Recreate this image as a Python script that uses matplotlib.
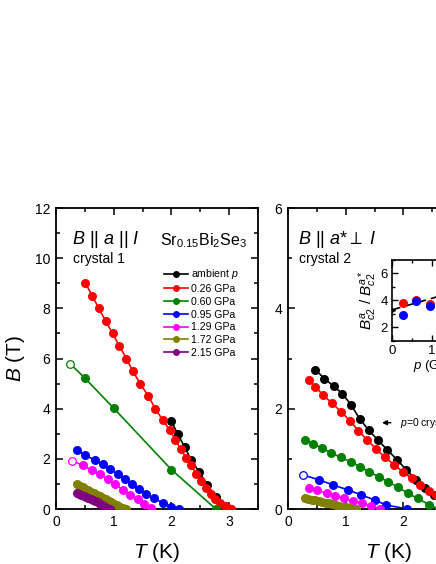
import matplotlib
matplotlib.use('Agg')
import matplotlib.pyplot as plt
from matplotlib.ticker import MultipleLocator

plt.rcParams['font.family'] = ['Liberation Sans', 'DejaVu Sans']
plt.rcParams['mathtext.fontset'] = 'custom'
plt.rcParams['mathtext.rm'] = 'Liberation Sans'
plt.rcParams['mathtext.it'] = 'Liberation Sans:italic'
plt.rcParams['mathtext.sf'] = 'Liberation Sans'

# ---------------------------------------------------------------------------
# Data: crystal 1 (B || a || I)
# ---------------------------------------------------------------------------
labels = ['ambient $p$', '0.26 GPa', '0.60 GPa', '0.95 GPa', '1.29 GPa', '1.72 GPa', '2.15 GPa']
colors = ['black', '#ff0000', '#008000', '#0000ff', '#ff00ff', '#808000', '#800080']

c1_amb_T = [2.00, 2.11, 2.23, 2.34, 2.48, 2.62, 2.77, 2.92, 3.03]
c1_amb_B = [3.50, 2.98, 2.47, 1.96, 1.48, 0.97, 0.47, 0.12, 0.00]
c1_026_T = [0.51, 0.63, 0.74, 0.86, 0.98, 1.10, 1.22, 1.33, 1.46, 1.60, 1.72, 1.85, 1.97,
            2.07, 2.16, 2.25, 2.34, 2.43, 2.52, 2.60, 2.68, 2.76, 2.84, 2.92, 2.98, 3.04]
c1_026_B = [9.00, 8.50, 8.00, 7.50, 7.00, 6.50, 6.00, 5.50, 5.00, 4.50, 4.00, 3.55, 3.15,
            2.75, 2.40, 2.05, 1.75, 1.40, 1.10, 0.85, 0.60, 0.40, 0.25, 0.12, 0.04, 0.00]
c1_060_T = [0.25, 0.50, 1.00, 2.00, 2.77]
c1_060_B = [5.78, 5.22, 4.02, 1.57, 0.00]
c1_095_T = [0.36, 0.51, 0.67, 0.81, 0.94, 1.07, 1.20, 1.31, 1.44, 1.56, 1.69, 1.85, 2.00, 2.14]
c1_095_B = [2.35, 2.15, 1.95, 1.78, 1.58, 1.38, 1.18, 0.98, 0.78, 0.60, 0.43, 0.25, 0.09, 0.00]
c1_129_T = [0.27, 0.46, 0.62, 0.76, 0.90, 1.03, 1.16, 1.29, 1.42, 1.53, 1.65]
c1_129_B = [1.93, 1.75, 1.55, 1.38, 1.18, 0.98, 0.76, 0.56, 0.39, 0.20, 0.03]
c1_172_T = [0.36, 0.41, 0.46, 0.51, 0.56, 0.61, 0.66, 0.71, 0.76, 0.81, 0.86, 0.91,
            0.96, 1.01, 1.06, 1.11, 1.16, 1.21]
c1_172_B = [0.98, 0.93, 0.87, 0.81, 0.75, 0.69, 0.63, 0.57, 0.51, 0.45, 0.39, 0.33,
            0.27, 0.21, 0.15, 0.09, 0.04, 0.00]
c1_215_T = [0.36, 0.40, 0.44, 0.48, 0.52, 0.56, 0.60, 0.64, 0.68, 0.72, 0.76, 0.80, 0.84, 0.88, 0.93]
c1_215_B = [0.62, 0.58, 0.54, 0.50, 0.46, 0.42, 0.38, 0.34, 0.30, 0.26, 0.21, 0.16, 0.11, 0.06, 0.00]
c1_open = {2: True, 4: True}   # first point of these series is an open symbol

# ---------------------------------------------------------------------------
# Data: crystal 2 (B || a* perp I)
# ---------------------------------------------------------------------------
c2_amb_T = [0.47, 0.63, 0.79, 0.94, 1.09, 1.24, 1.40, 1.56, 1.72, 1.89, 2.05, 2.22, 2.38,
            2.53, 2.68, 2.82, 2.95]
c2_amb_B = [2.78, 2.60, 2.45, 2.30, 2.08, 1.80, 1.57, 1.37, 1.18, 0.98, 0.78, 0.58, 0.41,
            0.28, 0.15, 0.06, 0.00]
c2_026_T = [0.36, 0.47, 0.61, 0.76, 0.92, 1.07, 1.22, 1.37, 1.53, 1.68, 1.84, 1.99, 2.14,
            2.29, 2.44, 2.56, 2.70, 2.84]
c2_026_B = [2.58, 2.44, 2.27, 2.11, 1.94, 1.76, 1.56, 1.38, 1.19, 1.03, 0.88, 0.74, 0.61,
            0.48, 0.35, 0.27, 0.15, 0.05]
c2_060_T = [0.29, 0.44, 0.59, 0.75, 0.91, 1.09, 1.25, 1.41, 1.57, 1.74, 1.90, 2.08, 2.25, 2.45, 2.62]
c2_060_B = [1.38, 1.30, 1.21, 1.12, 1.03, 0.94, 0.84, 0.74, 0.64, 0.54, 0.44, 0.31, 0.21, 0.08, 0.00]
c2_095_T = [0.26, 0.54, 0.78, 1.04, 1.27, 1.50, 1.70, 2.07]
c2_095_B = [0.68, 0.58, 0.48, 0.38, 0.28, 0.18, 0.08, 0.00]
c2_129_T = [0.36, 0.51, 0.67, 0.82, 0.97, 1.13, 1.28, 1.44, 1.59]
c2_129_B = [0.41, 0.37, 0.31, 0.26, 0.21, 0.16, 0.11, 0.06, 0.01]
c2_172_T = [0.29, 0.35, 0.41, 0.47, 0.53, 0.59, 0.65, 0.71, 0.77, 0.83, 0.89, 0.95,
            1.01, 1.07, 1.13, 1.18]
c2_172_B = [0.21, 0.20, 0.18, 0.17, 0.15, 0.14, 0.12, 0.11, 0.09, 0.08, 0.06, 0.05,
            0.04, 0.02, 0.01, 0.00]
c2_open = {3: True}

# inset: anisotropy ratio vs pressure
ins_amb_p = [0.0]
ins_amb_r = [3.3]
ins_c1_p = [0.26, 0.60, 0.95]
ins_c1_r = [3.80, 4.05, 3.70]
ins_c2_p = [0.26, 0.60, 0.95]
ins_c2_r = [2.90, 3.95, 3.55]
ins_guide_p = [0.0, 1.3]
ins_guide_r = [3.3, 4.4]

c1_series = [(c1_amb_T, c1_amb_B), (c1_026_T, c1_026_B), (c1_060_T, c1_060_B),
             (c1_095_T, c1_095_B), (c1_129_T, c1_129_B), (c1_172_T, c1_172_B),
             (c1_215_T, c1_215_B)]
c2_series = [(c2_amb_T, c2_amb_B), (c2_026_T, c2_026_B), (c2_060_T, c2_060_B),
             (c2_095_T, c2_095_B), (c2_129_T, c2_129_B), (c2_172_T, c2_172_B)]

MS = 6.5
TICK = 10


def _style(ax, xmax, ymax, ymaj, ymin):
    ax.set_xlim(0, xmax)
    ax.set_ylim(0, ymax)
    ax.xaxis.set_major_locator(MultipleLocator(1))
    ax.xaxis.set_minor_locator(MultipleLocator(0.5))
    ax.yaxis.set_major_locator(MultipleLocator(ymaj))
    ax.yaxis.set_minor_locator(MultipleLocator(ymin))
    ax.tick_params(which='both', direction='in', top=True, right=True, width=1.1,
                   labelsize=TICK)
    ax.tick_params(which='major', length=5, pad=4)
    ax.tick_params(which='minor', length=3)
    for s in ax.spines.values():
        s.set_linewidth(1.3)


def _draw(ax, series, opened):
    for i, (T, B) in enumerate(series):
        c = colors[i]
        ax.plot(T, B, '-', color=c, lw=1.2, zorder=2)
        start = 1 if opened.get(i) else 0
        ax.plot(T[start:], B[start:], 'o', color=c, ms=MS, mec=c, mew=0, zorder=3)
        if start:
            ax.plot(T[:1], B[:1], 'o', ms=MS - 1, mfc='white', mec=c, mew=0.9, zorder=3)


fig = plt.figure(figsize=(4.36, 5.64), dpi=100)

ax1 = fig.add_axes([0.1284, 0.0975, 0.4633, 0.5337])
_style(ax1, 3.5, 12, 2, 1)
_draw(ax1, c1_series, c1_open)
for i in range(len(c1_series)):
    ax1.plot([], [], '-o', color=colors[i], ms=5, mew=0, lw=1.2, label=labels[i])
ax1.legend(loc='upper left', bbox_to_anchor=(0.535, 0.803), frameon=False, fontsize=7.6,
           handlelength=2.3, handletextpad=0.25, labelspacing=0.26, borderpad=0,
           borderaxespad=0)
ax1.text(0.08, 0.895, '$B$ || $a$ || $I$', transform=ax1.transAxes, fontsize=13, va='center')
ax1.text(0.083, 0.832, 'crystal 1', transform=ax1.transAxes, fontsize=10, va='center')
ax1.text(0.515, 0.893, 'Sr$_{0.15}$Bi$_2$Se$_3$', transform=ax1.transAxes, fontsize=11.5,
         va='center')
ax1.set_ylabel('$B$ (T)', fontsize=15, labelpad=6)
ax1.set_xlabel('$T$ (K)', fontsize=15, labelpad=9)

ax2 = fig.add_axes([0.6606, 0.0975, 0.4633, 0.5337])
_style(ax2, 3.5, 6, 2, 1)
_draw(ax2, c2_series, c2_open)
ax2.text(0.05, 0.895, '$B$ || $a$*$\\perp$ $I$', transform=ax2.transAxes, fontsize=13,
         va='center')
ax2.text(0.053, 0.832, 'crystal 2', transform=ax2.transAxes, fontsize=10, va='center')
ax2.annotate('', xy=(1.58, 1.72), xytext=(1.83, 1.72),
             arrowprops=dict(arrowstyle='-|>', color='black', lw=1.0, mutation_scale=7))
ax2.text(1.94, 1.72, '$p$=0 crystal 1', fontsize=7.5, va='center')
ax2.set_xlabel('$T$ (K)', fontsize=15, labelpad=9)

ax3 = fig.add_axes([0.8998, 0.3959, 0.2033, 0.1431])
ax3.set_xlim(0, 2.25)
ax3.set_ylim(1, 7)
ax3.xaxis.set_major_locator(MultipleLocator(1))
ax3.xaxis.set_minor_locator(MultipleLocator(0.5))
ax3.yaxis.set_major_locator(MultipleLocator(2))
ax3.yaxis.set_minor_locator(MultipleLocator(1))
ax3.tick_params(which='both', direction='in', top=True, right=True, width=1.0, labelsize=9.5)
ax3.tick_params(which='major', length=4, pad=3)
ax3.tick_params(which='minor', length=2)
for s in ax3.spines.values():
    s.set_linewidth(1.2)
ax3.plot(ins_guide_p, ins_guide_r, '--', color='black', lw=1.2, dashes=(5, 3))
ax3.plot(ins_amb_p, ins_amb_r, '>', color='black', ms=5)
ax3.plot(ins_c1_p, ins_c1_r, 'o', color='#ff0000', ms=MS, mew=0)
ax3.plot(ins_c2_p, ins_c2_r, 'o', color='#0000ff', ms=MS, mew=0)
ax3.set_ylabel('$B^{a}_{c2}$ / $B^{a*}_{c2}$', fontsize=11, labelpad=1)
ax3.set_xlabel('$p$ (GPa)', fontsize=9.5, labelpad=1)

fig.savefig('out.png', dpi=100)
